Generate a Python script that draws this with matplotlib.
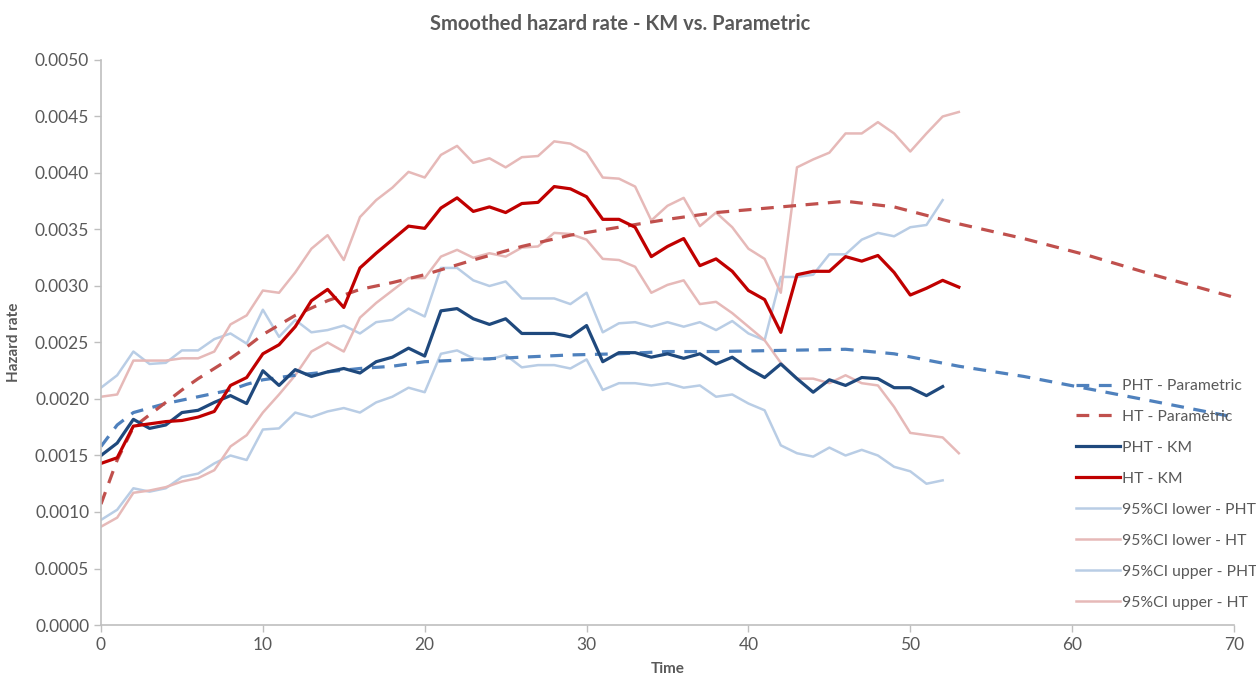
import matplotlib
matplotlib.use("Agg")
import matplotlib.pyplot as plt
import numpy as np

plt.rcParams['font.family'] = ['Lato', 'DejaVu Sans']

# ---- data ----
time_ht = list(range(0, 54))
time_pht = list(range(0, 53))

ht_km = [0.00143, 0.00148, 0.00176, 0.00178, 0.00180, 0.00181, 0.00184, 0.00189, 0.00212, 0.00219,
         0.00240, 0.00248, 0.00264, 0.00287, 0.00297, 0.00281, 0.00316, 0.00329, 0.00341, 0.00353,
         0.00351, 0.00369, 0.00378, 0.00366, 0.00370, 0.00365, 0.00373, 0.00374, 0.00388, 0.00386,
         0.00379, 0.00359, 0.00359, 0.00352, 0.00326, 0.00335, 0.00342, 0.00318, 0.00324, 0.00313,
         0.00296, 0.00288, 0.00259, 0.00310, 0.00313, 0.00313, 0.00326, 0.00322, 0.00327, 0.00312,
         0.00292, 0.00298, 0.00305, 0.00299]

pht_km = [0.00150, 0.00161, 0.00182, 0.00174, 0.00177, 0.00188, 0.00190, 0.00197, 0.00203, 0.00196,
          0.00225, 0.00212, 0.00226, 0.00220, 0.00224, 0.00227, 0.00223, 0.00233, 0.00237, 0.00245,
          0.00238, 0.00278, 0.00280, 0.00271, 0.00266, 0.00271, 0.00258, 0.00258, 0.00258, 0.00255,
          0.00265, 0.00233, 0.00241, 0.00241, 0.00237, 0.00240, 0.00236, 0.00240, 0.00231, 0.00237,
          0.00227, 0.00219, 0.00231, 0.00218, 0.00206, 0.00217, 0.00212, 0.00219, 0.00218, 0.00210,
          0.00210, 0.00203, 0.00211]

ci_upper_pht = [0.00210, 0.00221, 0.00242, 0.00231, 0.00232, 0.00243, 0.00243, 0.00253, 0.00258, 0.00249,
                0.00279, 0.00255, 0.00270, 0.00259, 0.00261, 0.00265, 0.00258, 0.00268, 0.00270, 0.00280,
                0.00273, 0.00316, 0.00316, 0.00305, 0.00300, 0.00304, 0.00289, 0.00289, 0.00289, 0.00284,
                0.00294, 0.00259, 0.00267, 0.00268, 0.00264, 0.00268, 0.00264, 0.00268, 0.00261, 0.00269,
                0.00258, 0.00252, 0.00308, 0.00308, 0.00310, 0.00328, 0.00328, 0.00341, 0.00347, 0.00344,
                0.00352, 0.00354, 0.00376]

ci_lower_pht = [0.00093, 0.00102, 0.00121, 0.00118, 0.00121, 0.00131, 0.00134, 0.00143, 0.00150, 0.00146,
                0.00173, 0.00174, 0.00188, 0.00184, 0.00189, 0.00192, 0.00188, 0.00197, 0.00202, 0.00210,
                0.00206, 0.00240, 0.00243, 0.00236, 0.00235, 0.00239, 0.00228, 0.00230, 0.00230, 0.00227,
                0.00235, 0.00208, 0.00214, 0.00214, 0.00212, 0.00214, 0.00210, 0.00212, 0.00202, 0.00204,
                0.00196, 0.00190, 0.00159, 0.00152, 0.00149, 0.00157, 0.00150, 0.00155, 0.00150, 0.00140,
                0.00136, 0.00125, 0.00128]

ci_upper_ht = [0.00202, 0.00204, 0.00234, 0.00234, 0.00234, 0.00236, 0.00236, 0.00242, 0.00266, 0.00274,
               0.00296, 0.00294, 0.00312, 0.00333, 0.00345, 0.00323, 0.00361, 0.00376, 0.00387, 0.00401,
               0.00396, 0.00416, 0.00424, 0.00409, 0.00413, 0.00405, 0.00414, 0.00415, 0.00428, 0.00426,
               0.00418, 0.00396, 0.00395, 0.00388, 0.00358, 0.00371, 0.00378, 0.00353, 0.00365, 0.00352,
               0.00333, 0.00324, 0.00294, 0.00405, 0.00412, 0.00418, 0.00435, 0.00435, 0.00445, 0.00435,
               0.00419, 0.00435, 0.00450, 0.00454]

ci_lower_ht = [0.00087, 0.00095, 0.00117, 0.00119, 0.00122, 0.00127, 0.00130, 0.00137, 0.00158, 0.00168,
               0.00188, 0.00204, 0.00221, 0.00242, 0.00250, 0.00242, 0.00272, 0.00285, 0.00296, 0.00307,
               0.00307, 0.00326, 0.00332, 0.00325, 0.00329, 0.00326, 0.00334, 0.00335, 0.00347, 0.00346,
               0.00341, 0.00324, 0.00323, 0.00317, 0.00294, 0.00301, 0.00305, 0.00284, 0.00286, 0.00276,
               0.00264, 0.00252, 0.00232, 0.00218, 0.00218, 0.00214, 0.00221, 0.00214, 0.00212, 0.00193,
               0.00170, 0.00168, 0.00166, 0.00152]

time_param = [0, 1, 2, 3, 4, 5, 6, 7, 8, 9, 10, 12, 14, 16, 18, 20, 23, 26, 29, 32, 35, 38, 42, 46,
              49, 53, 57, 61, 65, 70]
ht_param = [0.00107, 0.00146, 0.00175, 0.00186, 0.00197, 0.00208, 0.00218, 0.00227, 0.00236, 0.00246,
            0.00257, 0.00274, 0.00287, 0.00297, 0.00303, 0.00310, 0.00323, 0.00335, 0.00345, 0.00352,
            0.00359, 0.00365, 0.00370, 0.00375, 0.00370, 0.00355, 0.00342, 0.00327, 0.00310, 0.00290]
pht_param = [0.00158, 0.00177, 0.00188, 0.00192, 0.00196, 0.00199, 0.00202, 0.00205, 0.00208, 0.00213,
             0.00217, 0.00221, 0.00224, 0.00227, 0.00229, 0.00233, 0.00235, 0.00237, 0.00239, 0.00240,
             0.00242, 0.00242, 0.00243, 0.00244, 0.00240, 0.00229, 0.00220, 0.00209, 0.00198, 0.00184]

yticks = [0.0, 0.0005, 0.001, 0.0015, 0.002, 0.0025, 0.003, 0.0035, 0.004, 0.0045, 0.005]
xticks = [0, 10, 20, 30, 40, 50, 60, 70]

# ---- figure ----
fig = plt.figure(figsize=(12.56, 6.79), dpi=100)
ax = fig.add_axes([101/1256, 1 - 625/679, (1234 - 101)/1256, (625 - 60)/679])

c_lblue = '#B9CDE5'
c_lred = '#E6B9B8'
lines = []
lines.append(ax.plot(time_param, pht_param, color='#4F81BD', lw=2.3, dashes=(4, 3), label='PHT - Parametric')[0])
lines.append(ax.plot(time_param, ht_param, color='#C0504D', lw=2.3, dashes=(4, 3), label='HT - Parametric')[0])
lines.append(ax.plot(time_pht, pht_km, color='#1F497D', lw=2.3, label='PHT - KM')[0])
lines.append(ax.plot(time_ht, ht_km, color='#C00000', lw=2.3, label='HT - KM')[0])
lines.append(ax.plot(time_pht, ci_upper_pht, color=c_lblue, lw=1.8, label='95%CI lower - PHT')[0])
lines.append(ax.plot(time_ht, ci_upper_ht, color=c_lred, lw=1.8, label='95%CI lower - HT')[0])
lines.append(ax.plot(time_pht, ci_lower_pht, color=c_lblue, lw=1.8, label='95%CI upper - PHT')[0])
lines.append(ax.plot(time_ht, ci_lower_ht, color=c_lred, lw=1.8, label='95%CI upper - HT')[0])
for ln in lines[4:]:
    ln.set_zorder(1)

ax.set_xlim(0, 70)
ax.set_ylim(0, 0.005)
ax.set_xticks(xticks)
ax.set_yticks(yticks)
ax.set_yticklabels([f'{v:.4f}' for v in yticks])
for s in ['top', 'right']:
    ax.spines[s].set_visible(False)
for s in ['left', 'bottom']:
    ax.spines[s].set_color('#BFBFBF')
    ax.spines[s].set_linewidth(1.2)
ax.tick_params(axis='both', colors='#BFBFBF', labelcolor='#595959', labelsize=12.5, length=5, width=1)
ax.tick_params(axis='x', pad=4)

ax.set_xlabel('Time', fontsize=11, fontweight='bold', color='#595959', labelpad=6)
ax.set_ylabel('Hazard rate', fontsize=11, fontweight='bold', color='#595959', labelpad=10)
fig.text(0.494, 1 - 24/679, 'Smoothed hazard rate - KM vs. Parametric', ha='center', va='center',
         fontsize=14.5, fontweight='bold', color='#595959')

leg = fig.legend(handles=lines, loc='upper left', bbox_to_anchor=(1076/1256, 1 - 379/679),
                 frameon=False, fontsize=11.3, labelcolor='#595959', handlelength=2.8,
                 handletextpad=0.15, labelspacing=1.08, borderaxespad=0, borderpad=0)

fig.savefig('out.png', dpi=100)
